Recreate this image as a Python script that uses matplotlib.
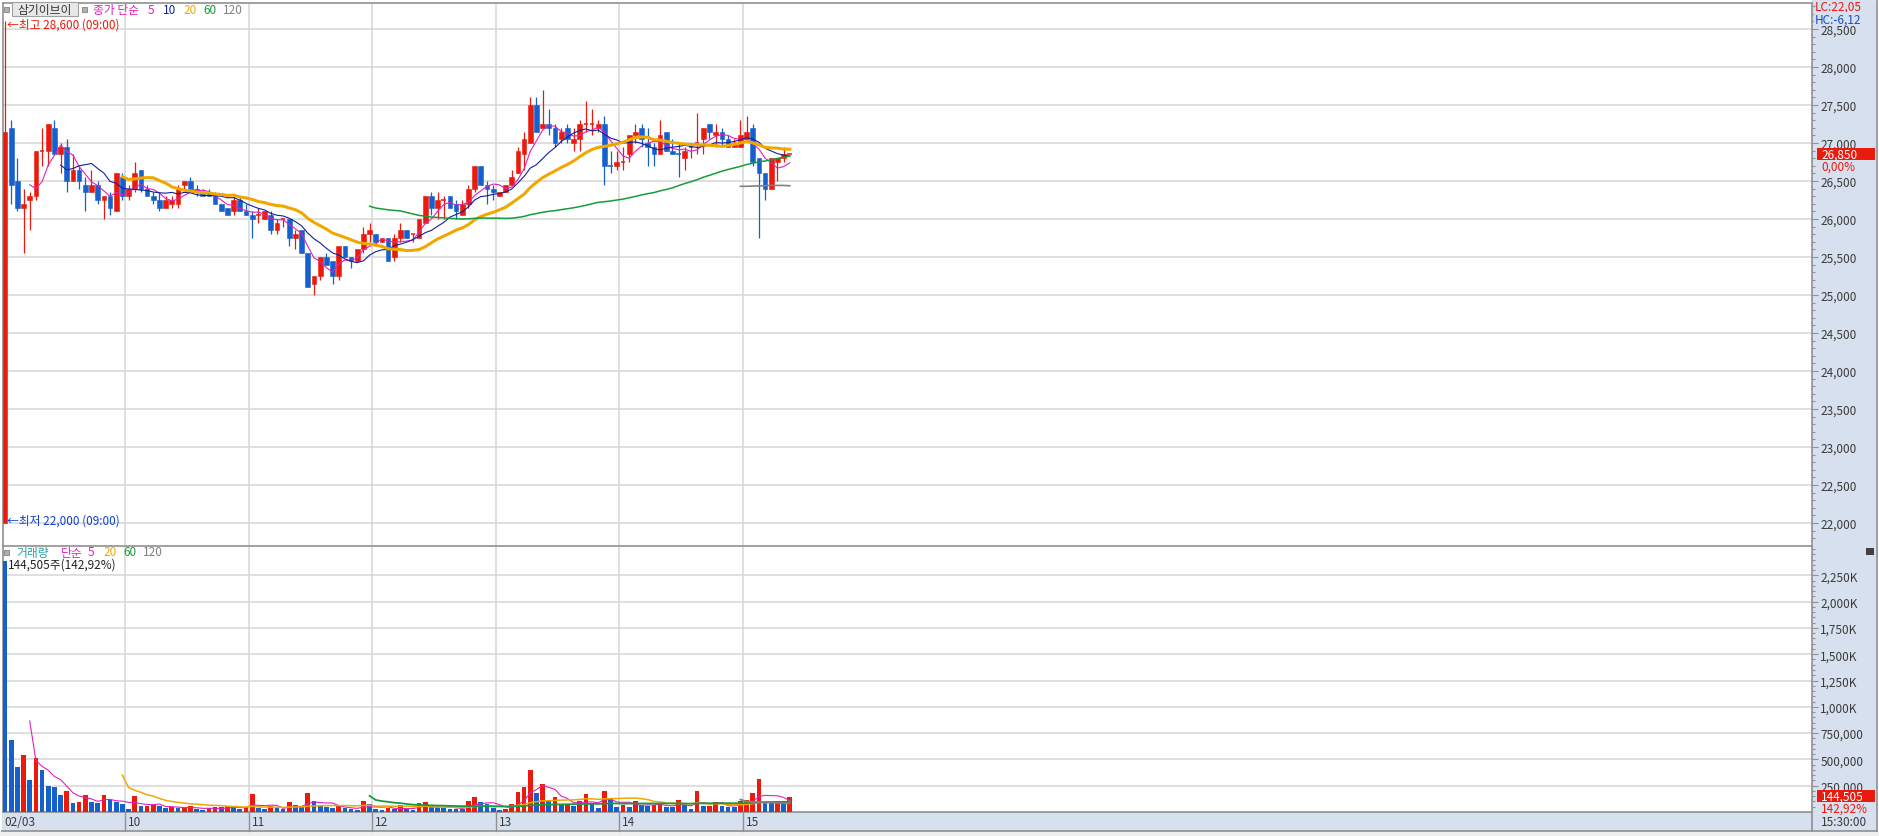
import numpy as np
import pandas as pd
import matplotlib.pyplot as plt
from matplotlib.patches import Rectangle

plt.rcParams['font.family'] = ['Noto Sans CJK KR', 'DejaVu Sans']

# 3-minute candles, 02/03 09:00 ~ 15:30
opens = [22000, 27200, 26500, 26150, 26250, 26300, 26900, 26900, 27200, 26850,
         26950, 26500, 26650, 26450, 26350, 26450, 26250, 26300, 26100, 26550,
         26300, 26400, 26650, 26400, 26300, 26250, 26150, 26200, 26200, 26450,
         26500, 26400, 26350, 26350, 26300, 26200, 26150, 26100, 26250, 26100,
         26050, 26050, 26000, 26050, 25850, 26000, 26000, 25750, 25850, 25550,
         25150, 25250, 25500, 25450, 25250, 25650, 25500, 25450, 25600, 25800,
         25800, 25700, 25750, 25500, 25750, 25850, 25800, 25750, 25950, 26300,
         26150, 26250, 26300, 26200, 26050, 26200, 26400, 26700, 26450, 26400,
         26300, 26350, 26450, 26600, 26850, 27000, 27500, 27200, 27250, 27200,
         27050, 27200, 27000, 27050, 27250, 27250, 27200, 27250, 26700, 26700,
         26750, 26850, 27100, 27200, 27000, 26950, 26850, 27150, 26900, 26850,
         26800, 26950, 27000, 27050, 27250, 27100, 27150, 27050, 26950, 26950,
         27050, 27200, 26800, 26600, 26400, 26750, 26800, 26850]
highs = [28600, 27300, 26800, 26400, 26350, 26900, 27200, 27250, 27300, 27000,
         27050, 26850, 26700, 26550, 26650, 26500, 26300, 26350, 26600, 26600,
         26450, 26750, 26650, 26450, 26350, 26350, 26300, 26300, 26450, 26500,
         26550, 26450, 26400, 26400, 26350, 26200, 26150, 26300, 26300, 26200,
         26100, 26150, 26100, 26100, 26000, 26000, 26000, 25850, 25850, 25550,
         25250, 25500, 25550, 25450, 25650, 25650, 25500, 25600, 25900, 25950,
         25800, 25750, 25750, 25800, 25950, 25850, 25800, 26000, 26300, 26350,
         26350, 26300, 26300, 26250, 26250, 26450, 26700, 26700, 26500, 26450,
         26350, 26450, 26650, 26950, 27150, 27600, 27600, 27700, 27450, 27250,
         27200, 27250, 27200, 27300, 27550, 27450, 27300, 27350, 26900, 26900,
         26950, 27100, 27250, 27250, 27200, 27000, 27300, 27150, 27050, 27000,
         26950, 27000, 27400, 27200, 27250, 27250, 27200, 27100, 27050, 27300,
         27350, 27250, 26800, 26600, 26800, 26800, 26950, 26850]
lows = [22000, 26200, 26100, 25550, 25850, 26250, 26700, 26700, 26850, 26600,
        26350, 26500, 26400, 26100, 26350, 26200, 26000, 26050, 26100, 26250,
        26250, 26350, 26350, 26300, 26200, 26100, 26150, 26150, 26150, 26400,
        26350, 26300, 26300, 26300, 26200, 26100, 26050, 26050, 26100, 26050,
        25750, 25950, 26000, 25800, 25800, 25900, 25650, 25600, 25550, 25100,
        25000, 25200, 25400, 25150, 25200, 25500, 25350, 25450, 25550, 25700,
        25650, 25700, 25450, 25450, 25700, 25750, 25700, 25750, 25950, 26050,
        26000, 26000, 26150, 26000, 26050, 26150, 26350, 26450, 26200, 26250,
        26300, 26350, 26450, 26600, 26650, 27000, 27150, 27200, 27100, 26950,
        27000, 27000, 26900, 26900, 27150, 27100, 27150, 26450, 26600, 26650,
        26650, 26750, 27000, 26950, 26700, 26700, 26850, 26900, 26850, 26550,
        26650, 26800, 26850, 26850, 27050, 26950, 26950, 26950, 26950, 26950,
        27050, 26700, 25750, 26250, 26400, 26500, 26750, 26850]
closes = [27150, 26450, 26150, 26200, 26300, 26900, 26900, 27250, 26850, 26950,
          26500, 26650, 26500, 26350, 26450, 26250, 26300, 26150, 26600, 26300,
          26400, 26600, 26400, 26300, 26250, 26150, 26250, 26250, 26400, 26500,
          26350, 26350, 26300, 26300, 26200, 26100, 26050, 26250, 26100, 26050,
          26000, 26050, 26100, 25850, 25950, 26000, 25750, 25800, 25550, 25100,
          25250, 25500, 25400, 25250, 25650, 25500, 25450, 25600, 25800, 25850,
          25700, 25750, 25450, 25750, 25850, 25750, 25800, 26000, 26300, 26150,
          26250, 26250, 26150, 26100, 26200, 26400, 26700, 26450, 26400, 26350,
          26350, 26450, 26550, 26900, 27050, 27500, 27150, 27250, 27200, 27000,
          27150, 27050, 27050, 27250, 27250, 27250, 27250, 26700, 26700, 26750,
          26750, 27100, 27150, 27050, 26950, 26850, 27100, 26900, 26850, 26850,
          26900, 26950, 27000, 27200, 27150, 27150, 27050, 26950, 27000, 27100,
          27150, 26750, 26600, 26400, 26800, 26800, 26850, 26850]
volumes = [2390000, 680000, 424000, 538000, 301000, 510000, 396000, 244000, 234000, 158000,
           196000, 82000, 92000, 158000, 92000, 82000, 158000, 111000, 92000, 73000,
           25000, 149000, 54000, 57000, 63000, 54000, 35000, 44000, 35000, 44000,
           54000, 25000, 16000, 35000, 44000, 43000, 54000, 44000, 25000, 44000,
           168000, 35000, 25000, 54000, 35000, 25000, 92000, 63000, 44000, 177000,
           101000, 63000, 44000, 42000, 54000, 35000, 25000, 16000, 101000, 73000,
           25000, 16000, 35000, 25000, 63000, 25000, 16000, 82000, 92000, 54000,
           44000, 35000, 33000, 31000, 29000, 101000, 139000, 92000, 73000, 35000,
           16000, 25000, 73000, 187000, 234000, 396000, 177000, 263000, 101000, 139000,
           72000, 75000, 54000, 101000, 168000, 82000, 35000, 196000, 120000, 44000,
           63000, 44000, 101000, 64000, 61000, 63000, 82000, 44000, 43000, 111000,
           63000, 25000, 196000, 54000, 56000, 92000, 54000, 44000, 43000, 101000,
           111000, 177000, 310000, 92000, 90000, 101000, 100000, 144505]
hour_labels = ["02/03", "10", "11", "12", "13", "14", "15"]
price_ticks = list(range(22000, 28501, 500))
vol_ticks = list(range(250000, 2250001, 250000))

RED = "#ea1a0c"
BLUE = "#1560cc"
MAGENTA = "#e020c0"
NAVY = "#1020a0"
ORANGE = "#f0a800"
GREEN = "#169c3a"
GRAY = "#808080"
BAND = "#d6e0ee"
GRID = "#d6d6d6"

W, H = 1879, 837
fig = plt.figure(figsize=(W / 100, H / 100), dpi=100)


def fx(x):
    return x / W


def fy(y):
    return 1 - y / H


def ax_rect(left, top, right, bottom):
    return [fx(left), fy(bottom), (right - left) / W, (bottom - top) / H]


n = len(closes)
idx = np.arange(n)
close_s = pd.Series(closes, dtype=float)
vol_s = pd.Series(volumes, dtype=float)

# candle colours (doji compared with previous close)
colors = []
for i in range(n):
    if closes[i] > opens[i]:
        c = RED
    elif closes[i] < opens[i]:
        c = BLUE
    elif i > 0 and closes[i] > closes[i - 1]:
        c = RED
    elif i > 0 and closes[i] < closes[i - 1]:
        c = BLUE
    else:
        c = colors[-1] if colors else RED
    colors.append(c)

vol_colors = [BLUE] + [RED if volumes[i] > volumes[i - 1] else BLUE for i in range(1, n)]

# background bands
fig.add_artist(Rectangle((fx(1812), fy(832)), (1877 - 1812) / W, 832 / H,
                         transform=fig.transFigure, facecolor=BAND, edgecolor="none", zorder=-5))
fig.add_artist(Rectangle((fx(2), fy(832)), (1812 - 2) / W, (832 - 813) / H,
                         transform=fig.transFigure, facecolor=BAND, edgecolor="none", zorder=-5))
fig.add_artist(Rectangle((0, 0), 1, (837 - 832) / H, transform=fig.transFigure,
                         facecolor="#f0f0f0", edgecolor="none", zorder=-5))

xmin, xmax = -0.32, 292.4
hour_x = [20 * k - 0.58 for k in range(1, 7)]

# ---------------- price panel ----------------
ax = fig.add_axes(ax_rect(3, 4, 1812, 546))
ax.set_xlim(xmin, xmax)
ax.set_ylim(21711, 28842)
for p in price_ticks:
    ax.axhline(p, color=GRID, lw=1.1, zorder=0)
for hx in hour_x:
    ax.axvline(hx, color=GRID, lw=1.1, zorder=0)

bw = 0.76
for i in range(n):
    ax.vlines(i, lows[i], highs[i], color=colors[i], lw=0.9, zorder=3)
    if opens[i] == closes[i]:
        ax.hlines(closes[i], i - bw / 2, i + bw / 2, color=colors[i], lw=1.1, zorder=3)
    else:
        lo = min(opens[i], closes[i])
        ax.add_patch(Rectangle((i - bw / 2, lo), bw, abs(closes[i] - opens[i]),
                               facecolor=colors[i], edgecolor=colors[i], lw=0.4, zorder=4))

ma_specs = [(5, MAGENTA, 0.8), (10, NAVY, 0.8), (20, ORANGE, 2.2), (60, GREEN, 1.1), (120, GRAY, 1.2)]
for period, col, lw in ma_specs:
    ax.plot(idx, close_s.rolling(period).mean(), color=col, lw=lw, zorder=5)

ax.yaxis.tick_right()
ax.set_yticks(price_ticks)
ax.set_yticklabels([f"{p:,}" for p in price_ticks])
ax.set_yticks(list(range(21800, 28801, 100)), minor=True)
ax.tick_params(axis="y", which="major", length=4.5, width=0.8, color="#909090",
               labelsize=8.5, labelcolor="#3a3a3a", pad=1.5)
ax.tick_params(axis="y", which="minor", length=2.2, width=0.8, color="#909090")
ax.set_xticks([])
for s in ax.spines.values():
    s.set_color("#909090")
    s.set_linewidth(1.2)
ax.spines["bottom"].set_visible(False)

# ---------------- volume panel ----------------
axv = fig.add_axes(ax_rect(3, 547, 1812, 813))
axv.set_xlim(xmin, xmax)
axv.set_ylim(0, 2529000)
for v in vol_ticks:
    axv.axhline(v, color=GRID, lw=1.1, zorder=0)
for hx in hour_x:
    axv.axvline(hx, color=GRID, lw=1.1, zorder=0)
axv.bar(idx, volumes, width=bw, color=vol_colors, zorder=3)

vma_specs = [(5, MAGENTA, 0.8), (20, ORANGE, 1.1), (60, GREEN, 1.3), (120, GRAY, 1.3)]
for period, col, lw in vma_specs:
    axv.plot(idx, vol_s.rolling(period).mean(), color=col, lw=lw, zorder=5)

axv.yaxis.tick_right()
axv.set_yticks(vol_ticks)
axv.set_yticklabels([f"{v // 1000:,}K" if v >= 1000000 else f"{v:,}" for v in vol_ticks])
axv.set_yticks(list(range(50000, 2500001, 50000)), minor=True)
axv.tick_params(axis="y", which="major", length=4.5, width=0.8, color="#909090",
                labelsize=8.5, labelcolor="#3a3a3a", pad=1.5)
axv.tick_params(axis="y", which="minor", length=2.2, width=0.8, color="#909090")
axv.set_xticks([])
for s in axv.spines.values():
    s.set_color("#909090")
    s.set_linewidth(1.2)

# ---------------- x band ----------------
x_px = [5 + 6.18 * hx for hx in hour_x]
for xp in x_px:
    fig.add_artist(plt.Line2D([fx(xp), fx(xp)], [fy(813), fy(832)], color="#909090", lw=1))
fig.add_artist(plt.Line2D([fx(1812), fx(1812)], [fy(813), fy(832)], color="#909090", lw=1.2))
fig.add_artist(plt.Line2D([fx(2), fx(1877)], [fy(832), fy(832)], color="#909090", lw=1.2))
fig.add_artist(plt.Line2D([fx(1877), fx(1877)], [fy(2), fy(832)], color="#909090", lw=1.2))
label_x = [4] + [xp + 3 for xp in x_px]
for lx, lab in zip(label_x, hour_labels):
    fig.text(fx(lx), fy(823), lab, fontsize=8.5, color="#3a3a3a", va="center", ha="left")
fig.text(fx(1821), fy(823), "15:30:00", fontsize=8.5, color="#3a3a3a", va="center", ha="left")

# ---------------- legends ----------------
def square(x, y, s=5):
    fig.add_artist(Rectangle((fx(x), fy(y + s)), s / W, s / H, transform=fig.transFigure,
                             facecolor="#b0b0b0", edgecolor="#808080", lw=0.6, zorder=6))


square(4, 8)
fig.add_artist(Rectangle((fx(12), fy(17)), 66 / W, 14 / H, transform=fig.transFigure,
                         facecolor="#e8e8e8", edgecolor="#a0a0a0", lw=0.8, zorder=6))
fig.text(fx(45), fy(10.5), "삼기이브이", fontsize=8.5, color="#333333", ha="center", va="center", zorder=7)
square(82, 8)
for x, t, c in [(93, "종가 단순", MAGENTA), (148, "5", MAGENTA), (163, "10", NAVY),
                (183, "20", ORANGE), (203, "60", GREEN), (223, "120", GRAY)]:
    fig.text(fx(x), fy(10.5), t, fontsize=8.5, color=c, ha="left", va="center", zorder=7)
fig.text(fx(7), fy(25), "←최고 28,600 (09:00)", fontsize=8.5, color=RED, ha="left", va="center", zorder=7)
fig.text(fx(7), fy(521), "←최저 22,000 (09:00)", fontsize=8.5, color="#1040d0", ha="left", va="center", zorder=7)

square(4, 551)
for x, t, c in [(16, "거래량", "#20a0a0"), (61, "단순", MAGENTA), (88, "5", MAGENTA),
                (103, "20", ORANGE), (123, "60", GREEN), (143, "120", GRAY)]:
    fig.text(fx(x), fy(553), t, fontsize=8.5, color=c, ha="left", va="center", zorder=7)
fig.text(fx(8), fy(565), "144,505주(142,92%)", fontsize=8.5, color="#222222", ha="left", va="center", zorder=7)

# ---------------- right band labels ----------------
fig.text(fx(1815), fy(7), "LC:22,05", fontsize=8.5, color=RED, ha="left", va="center", zorder=7)
fig.text(fx(1815), fy(20), "HC:-6,12", fontsize=8.5, color="#1050d0", ha="left", va="center", zorder=7,
         bbox=dict(boxstyle="square,pad=0.05", facecolor=BAND, edgecolor="none"))

last_close = closes[-1]
fig.add_artist(Rectangle((fx(1817), fy(161)), 58 / W, 12 / H, transform=fig.transFigure,
                         facecolor=RED, edgecolor="none", zorder=6))
fig.text(fx(1821), fy(155), f"{last_close:,}", fontsize=8.5, color="white", ha="left", va="center", zorder=7)
fig.text(fx(1821), fy(167), "0,00%", fontsize=8.5, color=RED, ha="left", va="center", zorder=7)

fig.add_artist(Rectangle((fx(1817), fy(803)), 58 / W, 12 / H, transform=fig.transFigure,
                         facecolor=RED, edgecolor="none", zorder=6))
fig.text(fx(1821), fy(797), f"{volumes[-1]:,}", fontsize=8.5, color="white", ha="left", va="center", zorder=7)
fig.text(fx(1821), fy(809), "142,92%", fontsize=8.5, color=RED, ha="left", va="center", zorder=7)

fig.add_artist(Rectangle((fx(1866), fy(556)), 8 / W, 7 / H, transform=fig.transFigure,
                         facecolor="#404040", edgecolor="none", zorder=6))

fig.savefig("out.png", dpi=100)
